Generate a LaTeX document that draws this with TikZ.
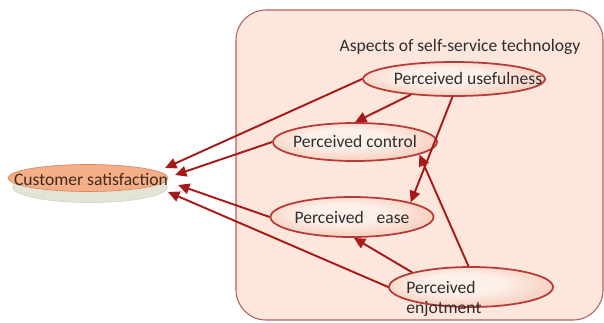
\documentclass[tikz,border=0pt]{standalone}
\usepackage{fontspec}
\setmainfont{Carlito}
\usetikzlibrary{arrows.meta,shapes.geometric}
\definecolor{boxfill}{HTML}{FDE6DC}
\definecolor{boxline}{HTML}{B4605A}
\definecolor{arr}{HTML}{A81A1A}
\definecolor{elline}{HTML}{B53C38}
\definecolor{elin}{HTML}{FDF0EA}
\definecolor{elout}{HTML}{EEA585}
\definecolor{csin}{HTML}{F6AE88}
\definecolor{csout}{HTML}{EE9A72}
\definecolor{shad}{HTML}{E4E4D6}
\definecolor{txt}{HTML}{2E2E2E}
\definecolor{cstxt}{HTML}{3D2B1F}
\pgfdeclareradialshading{elshade}{\pgfpoint{-4bp}{6bp}}{color(0bp)=(elin); color(12bp)=(elin); color(48bp)=(elout)}
\pgfdeclareradialshading{csshade}{\pgfpoint{0bp}{0bp}}{color(0bp)=(csin); color(25bp)=(csin); color(50bp)=(csout)}
\begin{document}
\begin{tikzpicture}[x=0.02cm,y=-0.02cm,
  el/.style={ellipse, draw=elline, line width=1pt, shading=elshade, inner sep=0pt},
  lbl/.style={font=\fontsize{10}{11.3}\selectfont, text=txt, inner sep=0pt},
  conn/.style={draw=arr, line width=1.1pt, -{Triangle[length=6.5pt,width=6pt]}}]
\useasboundingbox (0,0) rectangle (604,322);
% aspects box
\draw[fill=boxfill, draw=boxline, line width=0.6pt, rounded corners=0.6cm] (236,10) rectangle (603,320);
\node[lbl] (ta) at (460,47) {Aspects of self-service technology};
% customer satisfaction
\node[ellipse, fill=shad, draw=shad!85!gray, line width=0.4pt, minimum width=3.1cm, minimum height=0.62cm, inner sep=0pt] (css) at (90,187) {};
\node[ellipse, shading=csshade, draw=csout!90!black, line width=0.4pt, minimum width=3.2cm, minimum height=0.54cm, inner sep=0pt] (cs) at (88,178) {};
\node[lbl, text=cstxt] (tcs) at (91,179) {Customer satisfaction};
\coordinate (cs1) at ([shift={(77,-10)}]cs.center);
\coordinate (cs2) at ([shift={(87,-3)}]cs.center);
\coordinate (cs3) at ([shift={(90,7)}]cs.center);
\coordinate (cs4) at ([shift={(80,14)}]cs.center);
% aspect ellipses
\node[el, minimum width=3.64cm, minimum height=0.68cm] (u) at (454,79) {};
\node[lbl] (tu) at (468,78) {Perceived usefulness};
\node[el, minimum width=3.28cm, minimum height=0.76cm] (pc) at (355,142) {};
\node[lbl] (tc) at (355,141) {Perceived control};
\node[el, minimum width=3.26cm, minimum height=0.8cm] (pe) at (352,217) {};
\node[lbl] (te) at (352,217) {Perceived\hspace{5pt} ease};
\node[el, minimum width=3.28cm, minimum height=0.8cm] (pj) at (471,287) {};
\node[lbl, align=left, anchor=west] (tj) at (406,299) {Perceived\\enjotment};
% connectors
\draw[conn] (u.west) -- (cs1);
\draw[conn] (u.200) -- (pc.north);
\draw[conn] (u.265) -- (pe.14);
\draw[conn] (pc.west) -- (cs2);
\draw[conn] (pe.west) -- (cs3);
\draw[conn] (pj.west) -- (cs4);
\draw[conn] (pj.166) -- (pe.275);
\draw[conn] (pj.97) -- (pc.349);
\end{tikzpicture}
\end{document}
